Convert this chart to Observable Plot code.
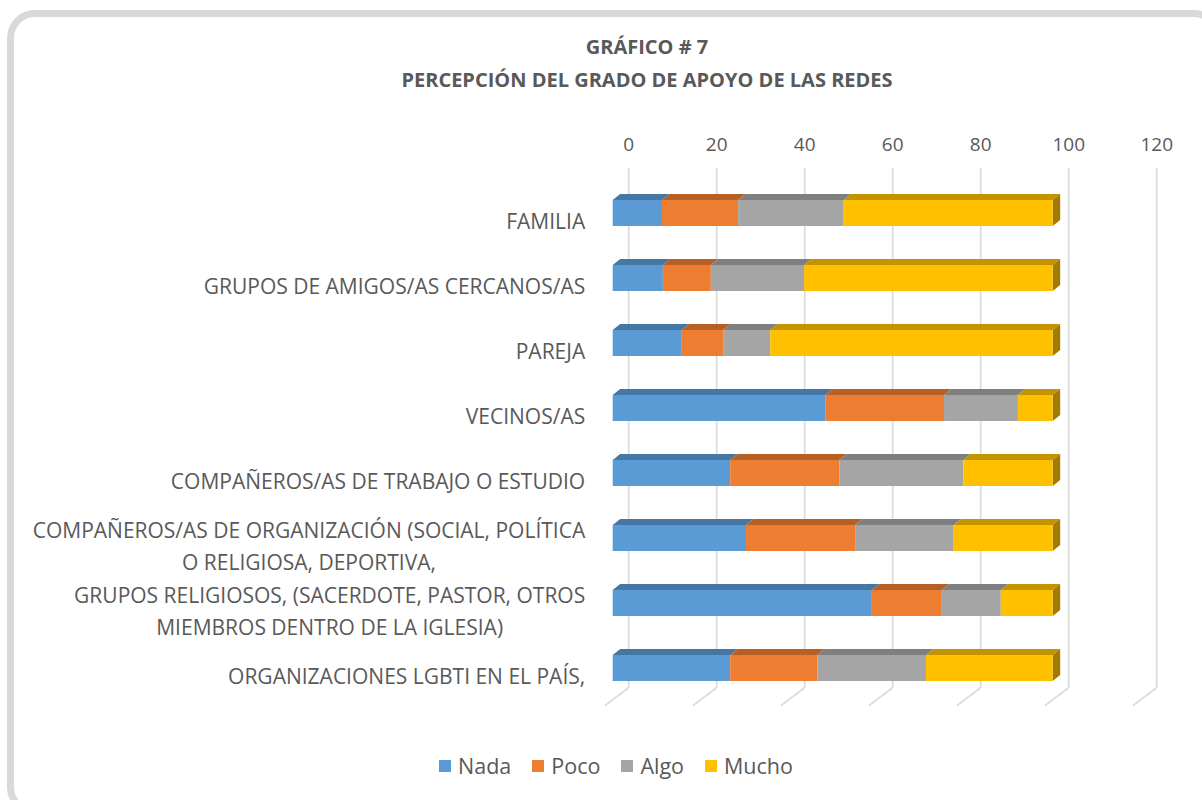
<!DOCTYPE html>
<html><head><meta charset="utf-8">
<script src="https://cdn.jsdelivr.net/npm/d3@7"></script>
<script src="https://cdn.jsdelivr.net/npm/@observablehq/plot@0.6"></script>
<style>
body{margin:0;background:#fff;font-family:"Open Sans",Lato,sans-serif;overflow:hidden;}
#card{position:absolute;left:7px;top:10px;width:1215px;height:805px;border:7px solid #d9d9d9;border-radius:28px;box-sizing:border-box;}
#title{position:absolute;left:0;width:1294px;top:30px;text-align:center;font-weight:bold;font-size:20px;color:#595959;line-height:33px;}
#chart{position:absolute;left:0;top:0;}
#legend{position:absolute;left:0;width:1232px;top:751px;display:flex;justify-content:center;gap:21px;font-size:21.5px;color:#595959;}
#legend span.item{display:flex;align-items:center;gap:7px;}
#legend span.sw{display:inline-block;width:12px;height:12px;}
</style></head>
<body>
<div id="card"></div>
<div id="title">GRÁFICO # 7<br>PERCEPCIÓN DEL GRADO DE APOYO DE LAS REDES</div>
<div id="chart"></div>
<div id="legend"></div>
<script>
const categories = [
  "FAMILIA",
  "GRUPOS DE AMIGOS/AS CERCANOS/AS",
  "PAREJA",
  "VECINOS/AS",
  "COMPAÑEROS/AS DE TRABAJO O ESTUDIO",
  "COMPAÑEROS/AS DE ORGANIZACIÓN (SOCIAL, POLÍTICA\nO RELIGIOSA, DEPORTIVA,",
  "GRUPOS RELIGIOSOS, (SACERDOTE, PASTOR, OTROS\nMIEMBROS DENTRO DE LA IGLESIA)",
  "ORGANIZACIONES LGBTI EN EL PAÍS,"
];
const series = ["Nada", "Poco", "Algo", "Mucho"];
const nada  = [11.2, 11.4, 15.7, 48.3, 26.7, 30.3, 58.9, 26.7];
const poco  = [17.3, 10.9,  9.4, 27.0, 24.8, 24.8, 15.9, 19.8];
const algo  = [24.0, 21.2, 10.7, 16.8, 28.2, 22.4, 13.4, 24.7];
const mucho = [47.5, 56.5, 64.2,  7.9, 20.3, 22.5, 11.8, 28.8];
const xTicks = [0, 20, 40, 60, 80, 100, 120];
const colors = ["#5b9bd5", "#ed7d31", "#a5a5a5", "#ffc000"];

const seriesValues = [nada, poco, algo, mucho];
const data = [];
categories.forEach((c, i) => {
  series.forEach((s, j) => data.push({cat: c, series: s, value: seriesValues[j][i]}));
});

const W = 1202, H = 740;
const FONT = "'Open Sans', Lato, sans-serif";
const plot = Plot.plot({
  width: W, height: H,
  marginLeft: 612.7, marginRight: W - 1140.7,
  marginTop: 168, marginBottom: H - 688,
  x: {domain: [0, 120], axis: null},
  y: {domain: categories, range: [161, 720], padding: 0.6, axis: null},
  color: {domain: series, range: colors},
  style: {fontFamily: FONT, background: "transparent"},
  marks: [
    Plot.ruleX(xTicks, {x: d => d, dx: 15.5, stroke: "#d9d9d9", strokeWidth: 1.6}),
    Plot.text(xTicks, {x: d => d, frameAnchor: "top", dy: -31, dx: 15.5, fontSize: 19, fill: "#595959"}),
    Plot.barX(data, Plot.stackX({x: "value", y: "cat", fill: "series"})),
    Plot.text(categories, {x: 0, y: d => d, dx: -28, dy: 5, textAnchor: "end", fontSize: 21, fill: "#595959", lineHeight: 1.54})
  ]
});
document.getElementById("chart").appendChild(plot);

// 3D decoration derived from the rendered bars and the plot's x scale
const svg = d3.select(plot);
const xs = plot.scale("x");
const xpos = xs && xs.apply ? xs.apply : d3.scaleLinear([0, 120], [612.7, 1140.7]);
const DX = 7.5, DY = -6;
const deco = svg.insert("g", 'g[aria-label="bar"]');
// slanted floor gridlines
xTicks.forEach(t => {
  const bx = xpos(t) + 15.5;
  deco.append("line").attr("x1", bx).attr("y1", 688).attr("x2", bx - 23.3).attr("y2", 705.7)
    .attr("stroke", "#d9d9d9").attr("stroke-width", 1.6);
});
const rects = svg.selectAll('g[aria-label="bar"] rect').nodes();
const maxRight = {};
rects.forEach(r => {
  const y = +r.getAttribute("y");
  const x = +r.getAttribute("x"), w = +r.getAttribute("width");
  if (!(y in maxRight) || x + w > maxRight[y].x + maxRight[y].w) maxRight[y] = {x, w, r};
});
rects.forEach(r => {
  const x = +r.getAttribute("x"), y = +r.getAttribute("y"), w = +r.getAttribute("width"), h = +r.getAttribute("height");
  const fill = r.getAttribute("fill");
  const c = d3.rgb(fill);
  const top = d3.rgb(c.r * 0.77, c.g * 0.77, c.b * 0.77);
  deco.append("polygon")
    .attr("points", [[x, y], [x + DX, y + DY], [x + w + DX, y + DY], [x + w, y]].map(p => p.join(",")).join(" "))
    .attr("fill", top);
  if (maxRight[y].r === r) {
    const side = d3.rgb(c.r * 0.64, c.g * 0.64, c.b * 0.64);
    deco.append("polygon")
      .attr("points", [[x + w, y], [x + w + DX, y + DY], [x + w + DX, y + h + DY], [x + w, y + h]].map(p => p.join(",")).join(" "))
      .attr("fill", side);
  }
});
// center multi-line category labels within their block
svg.selectAll('g[aria-label="text"] text').each(function() {
  const tsp = this.querySelectorAll("tspan");
  if (tsp.length > 1) {
    let L = 0;
    tsp.forEach(t => L = Math.max(L, t.getComputedTextLength()));
    this.setAttribute("text-anchor", "middle");
    tsp.forEach(t => t.setAttribute("x", -L / 2));
  }
});

// legend
const lg = d3.select("#legend");
series.forEach((s, i) => {
  const it = lg.append("span").attr("class", "item");
  it.append("span").attr("class", "sw").style("background", colors[i]);
  it.append("span").text(s);
});
</script>
</body></html>
